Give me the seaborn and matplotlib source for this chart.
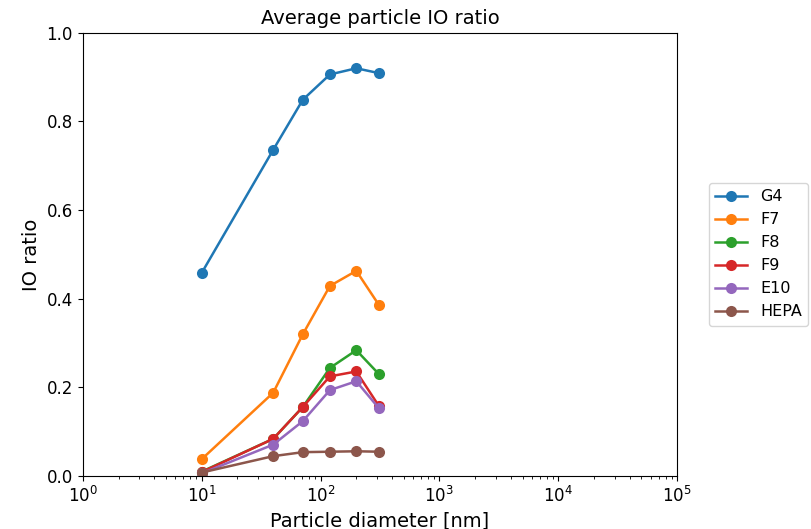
import pandas as pd
import matplotlib
matplotlib.use('Agg')
from matplotlib import pyplot as plt
import seaborn as sns

# 粒径 [nm]
diameter = [10, 40, 71, 120, 200, 310]
filters = ['G4', 'F7', 'F8', 'F9', 'E10', 'HEPA']
g4 = [0.458, 0.736, 0.849, 0.906, 0.920, 0.909]
f7 = [0.038, 0.188, 0.320, 0.429, 0.463, 0.386]
f8 = [0.010, 0.084, 0.156, 0.244, 0.284, 0.230]
f9 = [0.009, 0.084, 0.156, 0.225, 0.236, 0.158]
e10 = [0.006, 0.071, 0.124, 0.194, 0.214, 0.153]
hepa = [0.008, 0.045, 0.054, 0.055, 0.056, 0.055]

values = [g4, f7, f8, f9, e10, hepa]
rows = []
for name, vals in zip(filters, values):
    for d, v in zip(diameter, vals):
        rows.append({'diameter': d, 'io': v, 'filter': name})
df = pd.DataFrame(rows)

fig = plt.figure(figsize=(8.11, 5.29), dpi=100)
ax = fig.add_axes([0.102, 0.100, 0.733, 0.838])

sns.lineplot(data=df, x='diameter', y='io', hue='filter', hue_order=filters,
             marker='o', markersize=8, markeredgewidth=0, linewidth=1.8,
             palette='tab10', ax=ax)

ax.set_xscale('log')
ax.set_xlim(1, 1e5)
ax.set_ylim(0, 1)
ax.set_xlabel('Particle diameter [nm]', fontsize=14)
ax.set_ylabel('IO ratio', fontsize=14)
ax.set_title('Average particle IO ratio', fontsize=14)
ax.tick_params(labelsize=12)
ax.legend(loc='center left', bbox_to_anchor=(1.04, 0.5), fontsize=11.5)

fig.savefig('out.png', dpi=100)
